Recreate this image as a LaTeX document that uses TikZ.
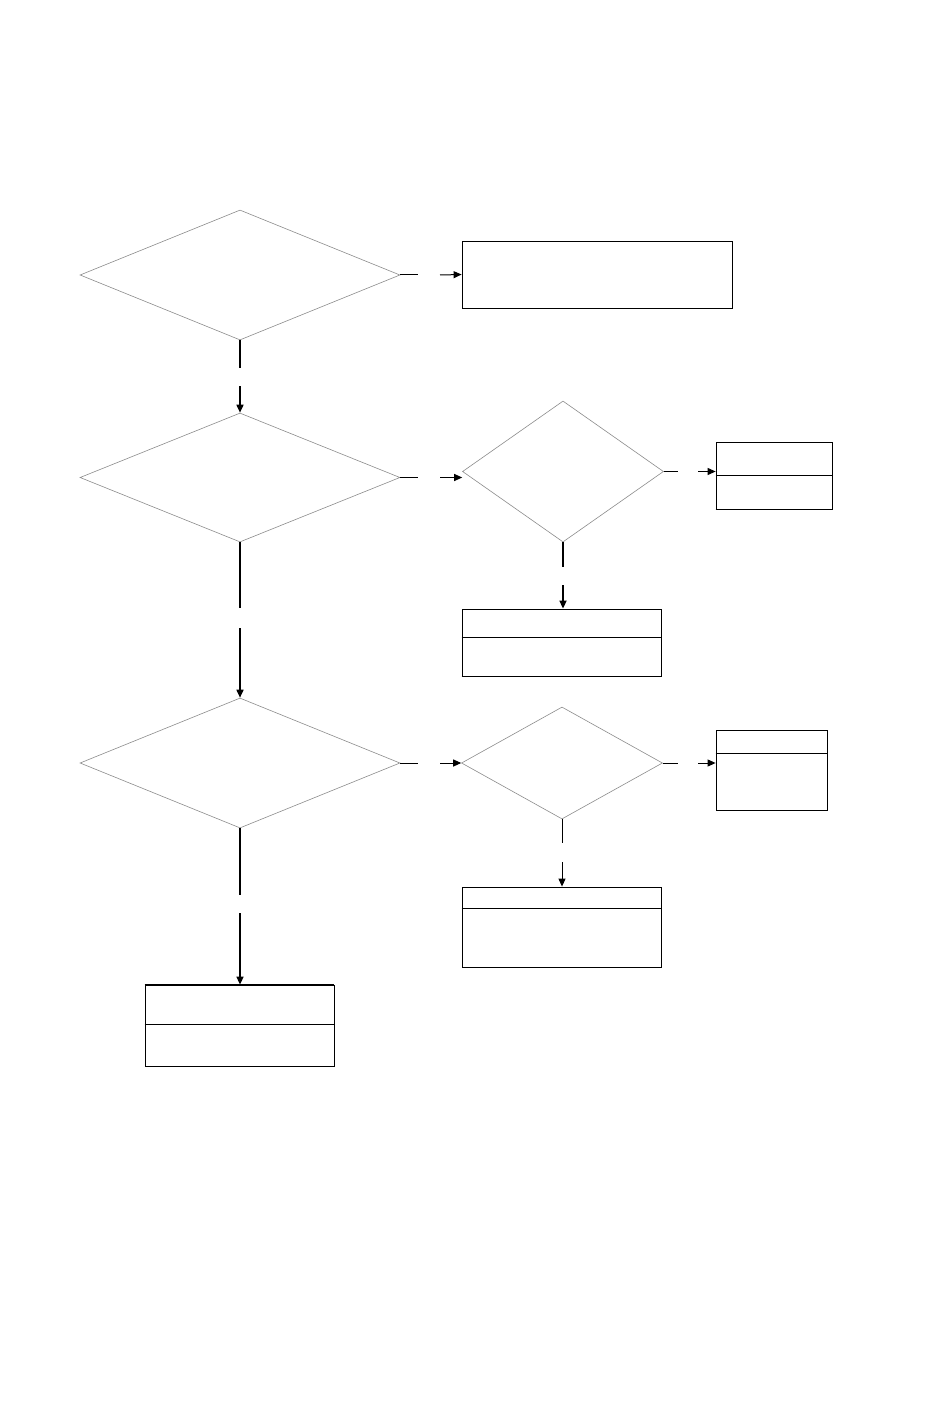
\documentclass[tikz,border=0pt]{standalone}
\usetikzlibrary{shapes.geometric,arrows.meta}
\tikzset{
  dec/.style={diamond,draw=black!45,line width=0.6pt,inner sep=0pt},
  boxnode/.style={rectangle,draw=black,line width=0.8pt,inner sep=0pt},
  conn/.style={draw=black,line width=1pt},
  connv/.style={draw=black,line width=1.6pt},
  tip/.style={-{Triangle[length=8pt,width=7pt]}},
  divider/.style={draw=black,line width=0.8pt},
  heavy/.style={draw=black,line width=1.8pt}
}
\begin{document}
\begin{tikzpicture}[x=1pt,y=-1pt]
\useasboundingbox[fill=white] (0,0) rectangle (950,1420);
% decisions
\node[dec,minimum width=320pt,minimum height=130pt] (d1) at (240,275) {};
\node[dec,minimum width=320pt,minimum height=129pt] (d2) at (240,477.5) {};
\node[dec,minimum width=320pt,minimum height=130pt] (d4) at (240,763) {};
\node[dec,minimum width=201pt,minimum height=141pt] (d3) at (563,471.5) {};
\node[dec,minimum width=201pt,minimum height=112pt] (d5) at (562,763) {};
% boxes
\node[boxnode,minimum width=270pt,minimum height=67pt] (r1) at (597,274.5) {};
\node[boxnode,minimum width=116pt,minimum height=67pt] (r2) at (774,475.5) {};
\node[boxnode,minimum width=199pt,minimum height=67pt] (r3) at (561.5,642.5) {};
\node[boxnode,minimum width=111pt,minimum height=80pt] (r4) at (771.5,770) {};
\node[boxnode,minimum width=199pt,minimum height=80pt] (r5) at (561.5,927) {};
\node[boxnode,minimum width=189pt,minimum height=81pt] (r6) at (239.5,1025.5) {};
% dividers and heavy edges
\draw[divider] ([yshift=-34pt]r2.north west) -- ([yshift=-34pt]r2.north east);
\draw[heavy] (r2.south west) -- (r2.south east);
\draw[divider] ([yshift=-29pt]r3.north west) -- ([yshift=-29pt]r3.north east);
\draw[heavy] (r3.south west) -- (r3.south east);
\draw[divider] ([yshift=-24pt]r4.north west) -- ([yshift=-24pt]r4.north east);
\draw[divider] ([yshift=-22pt]r5.north west) -- ([yshift=-22pt]r5.north east);
\draw[divider] ([yshift=-40pt]r6.north west) -- ([yshift=-40pt]r6.north east);
\draw[heavy] (r6.north west) -- (r6.north east);
% gap coordinates
\coordinate (a1) at (418,275); \coordinate (b1) at (440,275);
\coordinate (a2) at (240,368); \coordinate (b2) at (240,386);
\coordinate (a3) at (418,477.5); \coordinate (b3) at (440,477.5);
\coordinate (a4) at (678,471.5); \coordinate (b4) at (698,471.5);
\coordinate (a5) at (563,567); \coordinate (b5) at (563,585);
\coordinate (a6) at (240,608); \coordinate (b6) at (240,628);
\coordinate (a7) at (418,763); \coordinate (b7) at (440,763);
\coordinate (a8) at (678,763); \coordinate (b8) at (698,763);
\coordinate (a9) at (562,843); \coordinate (b9) at (562,862);
\coordinate (a10) at (240,895); \coordinate (b10) at (240,913);
% connectors
\draw[conn] (d1.east) -- (a1); \draw[conn,tip] (b1) -- (r1.west);
\draw[connv] (d1.south) -- (a2); \draw[connv,tip] (b2) -- (d2.north);
\draw[conn] (d2.east) -- (a3); \draw[conn,tip] (b3) -- (d3.west |- b3);
\draw[conn] (d3.east) -- (a4); \draw[conn,tip] (b4) -- (r2.west |- b4);
\draw[connv] (d3.south) -- (a5); \draw[connv,tip] (b5) -- (b5 |- r3.north);
\draw[connv] (d2.south) -- (a6); \draw[connv,tip] (b6) -- (d4.north);
\draw[conn] (d4.east) -- (a7); \draw[conn,tip] (b7) -- (d5.west);
\draw[conn] (d5.east) -- (a8); \draw[conn,tip] (b8) -- (r4.west |- b8);
\draw[conn] (d5.south) -- (a9); \draw[conn,tip] (b9) -- (b9 |- r5.north);
\draw[connv] (d4.south) -- (a10); \draw[connv,tip] (b10) -- (b10 |- r6.north);
\end{tikzpicture}
\end{document}
